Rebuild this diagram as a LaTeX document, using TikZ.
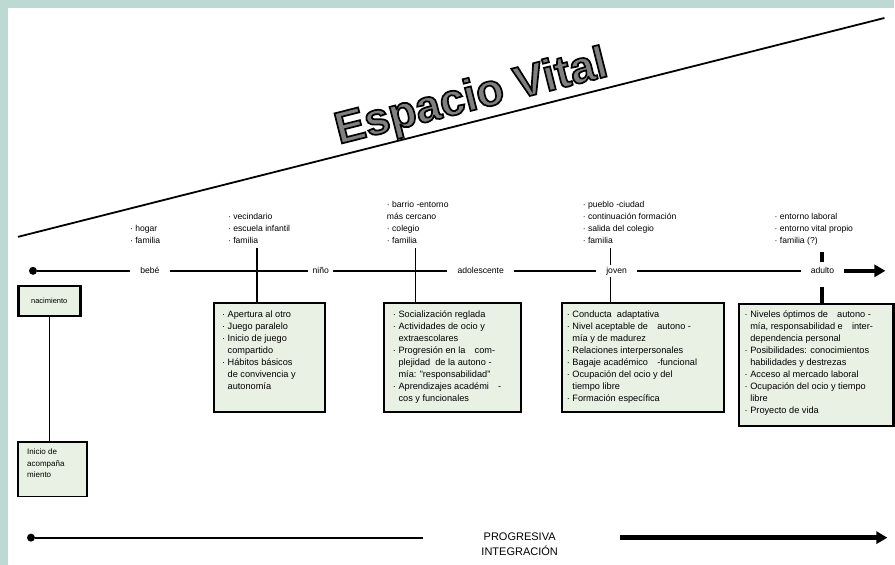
\documentclass[tikz,border=0pt]{standalone}
\usepackage{fontspec}
\setmainfont{Liberation Sans}
\usepackage{tikz}
\usetikzlibrary{positioning,arrows.meta}

\definecolor{framebg}{HTML}{BDD9D2}
\definecolor{boxfill}{HTML}{E8F1E3}

% grey letters with a black outline
\newcommand{\outlinetext}[1]{{\color{black!50}\special{pdf:literal direct 0 G 1.7 w 2 Tr}#1\special{pdf:literal direct 0 Tr}}}

\begin{document}
\begin{tikzpicture}[
    x=1pt, y=-1pt,
    stage/.style={draw=black, line width=2.6pt, fill=boxfill, inner sep=0pt, anchor=north west},
    stagetext/.style={align=left, font=\fontsize{9.2}{12}\selectfont, inner sep=0pt, anchor=north west},
    place/.style={align=left, font=\fontsize{8.6}{12}\selectfont, inner sep=0pt, anchor=north west},
    age/.style={fill=white, font=\fontsize{8.6}{10}\selectfont, inner xsep=10pt, inner ysep=2pt},
    tline/.style={line width=1.8pt},
    link/.style={line width=1.4pt},
    biglink/.style={line width=4pt},
    bigarrow/.style={line width=4.5pt, -{Triangle[length=11pt,width=12pt]}},
    dot/.style={circle, fill=black, inner sep=0pt, minimum size=8pt},
]
    % Frame
    \fill[framebg] (0,0) rectangle (895,565);
    \fill[white] (8,8) rectangle (895,565);

    % Espacio vital
    \coordinate (vstart) at (18,237);
    \coordinate (vend) at (885,18);
    \draw[tline] (vstart) -- node[sloped, above, pos=0.53, inner sep=1pt,
        font=\fontsize{45}{45}\selectfont\bfseries] (title) {\outlinetext{Espacio Vital}} (vend);

    % Places
    \node[place] (lab1) at (130,225) {· hogar\\· familia};
    \node[place] (lab2) at (228,213) {· vecindario\\· escuela infantil\\· familia};
    \node[place] (lab3) at (387,201) {· barrio -entorno\\ más cercano\\· colegio\\· familia};
    \node[place] (lab4) at (583,201) {· pueblo -ciudad\\· continuación formación\\· salida del colegio\\· familia};
    \node[place] (lab5) at (775,213) {· entorno laboral\\· entorno vital propio\\· familia (?)};

    % Boxes
    \node[stage, minimum width=62pt, minimum height=30pt, font=\fontsize{7.5}{9}\selectfont] (nac) at (17,285) {nacimiento};
    \node[stage, line width=1.8pt, minimum width=69pt, minimum height=55pt] (ini) at (17,441) {};
    \node[stage, minimum width=111pt, minimum height=109pt] (box1) at (213,302) {};
    \node[stage, minimum width=137pt, minimum height=109pt] (box2) at (383,302) {};
    \node[stage, minimum width=162pt, minimum height=109pt] (box3) at (561,302) {};
    \node[stage, minimum width=155pt, minimum height=122pt] (box4) at (738,303) {};

    \node[stagetext, font=\fontsize{8}{11.5}\selectfont] (txt0) at ([shift={(10,8)}]ini.north west) {Inicio de\\acompaña\\miento};
    \node[stagetext] (txt1) at ([shift={(9,9)}]box1.north west) {· Apertura al otro\\· Juego paralelo\\· Inicio de juego\\\phantom{· }compartido\\· Hábitos básicos\\\phantom{· }de convivencia y\\\phantom{· }autonomía};
    \node[stagetext] (txt2) at ([shift={(10,9)}]box2.north west) {· Socialización reglada\\· Actividades de ocio y\\\phantom{· }extraescolares\\· Progresión en la\quad com-\\\phantom{· }plejidad\ \ de la autono -\\\phantom{· }mía: "responsabilidad"\\· Aprendizajes académi\quad -\\\phantom{· }cos y funcionales};
    \node[stagetext] (txt3) at ([shift={(6,9)}]box3.north west) {· Conducta\ \ adaptativa\\· Nivel aceptable de\quad autono -\\\phantom{· }mía y de madurez\\· Relaciones interpersonales\\· Bagaje académico\quad -funcional\\· Ocupación del ocio y del\\\phantom{· }tiempo libre\\· Formación específica};
    \node[stagetext] (txt4) at ([shift={(7,8)}]box4.north west) {· Niveles óptimos de\quad autono -\\\phantom{· }mía, responsabilidad e\quad inter-\\\phantom{· }dependencia personal\\· Posibilidades: conocimientos\\\phantom{· }habilidades y destrezas\\· Acceso al mercado laboral\\· Ocupación del ocio y tiempo\\\phantom{· }libre\\· Proyecto de vida};

    % Vertical links
    \coordinate (c2) at (257,248);
    \coordinate (c3) at (416,248);
    \coordinate (c4) at (611,248);
    \coordinate (c5) at (823,252);
    \coordinate (c5a) at (823,262);
    \coordinate (c5b) at (823,287);
    \draw[link] (c2) -- (c2 |- box1.north);
    \draw[link] (c3) -- (c3 |- box2.north);
    \draw[link] (c4) -- (c4 |- box3.north);
    \draw[biglink] (c5) -- (c5a);
    \draw[biglink] (c5b) -- (c5b |- box4.north);
    \draw[link] (nac.south) -- (nac.south |- ini.north);

    % Timeline
    \node[dot] (tstart) at (33,271) {};
    \node[age] (bebe) at (150,271) {bebé};
    \node[age, inner xsep=4pt] (nino) at (321,271) {niño};
    \node[age] (adol) at (481,271) {adolescente};
    \node[age] (joven) at (617,271) {joven};
    \node[age] (adulto) at (823,271) {adulto};
    \coordinate (tend) at (886,271);
    \draw[tline] (tstart) -- (bebe);
    \draw[tline] (bebe) -- (nino);
    \draw[tline] (nino) -- (adol);
    \draw[tline] (adol) -- (joven);
    \draw[tline] (joven) -- (adulto);
    \draw[bigarrow] (adulto) -- (tend);

    % Progresiva integracion
    \node[dot] (pstart) at (31,538) {};
    \node[align=center, font=\fontsize{11}{15}\selectfont] (prog) at (520,545) {PROGRESIVA\\INTEGRACIÓN};
    \coordinate (pline) at (423,538);
    \coordinate (parrow) at (620,538);
    \coordinate (pend) at (888,538);
    \draw[tline] (pstart) -- (pline);
    \draw[bigarrow] (parrow) -- (pend);
\end{tikzpicture}
\end{document}
